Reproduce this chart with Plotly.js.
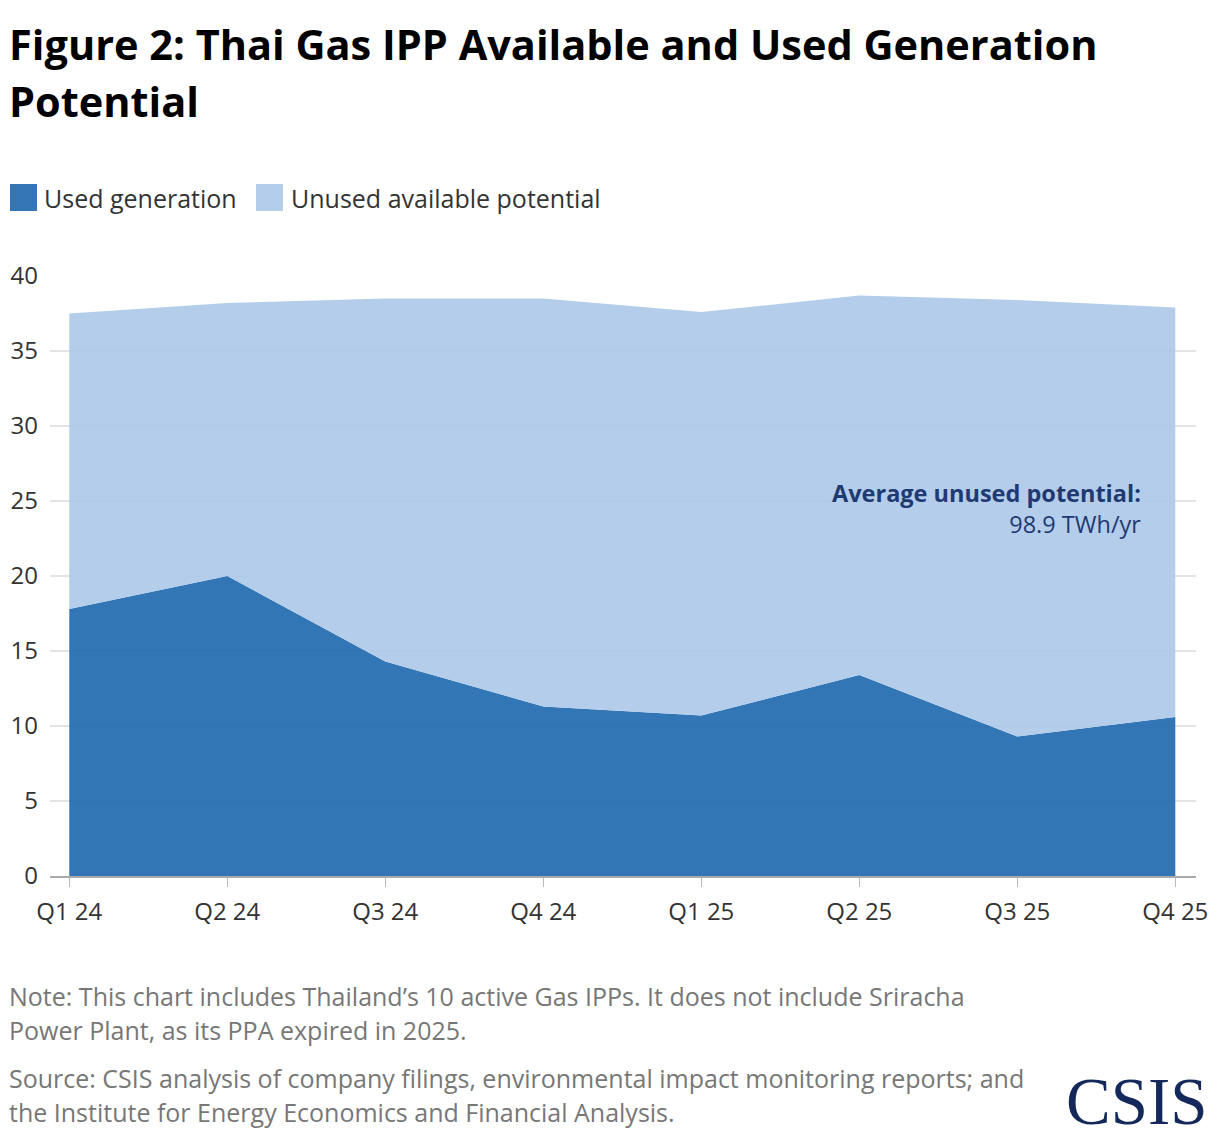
<!DOCTYPE html>
<html>
<head>
<meta charset="utf-8">
<script src="https://cdn.plot.ly/plotly-3.0.1.min.js"></script>
<style>
  html, body { margin: 0; padding: 0; background: #fff; }
  #chart { width: 1220px; height: 1138px; }
</style>
</head>
<body>
<div id="chart"></div>
<script>
// quarters and TWh values
const quarters = ["Q1 24", "Q2 24", "Q3 24", "Q4 24", "Q1 25", "Q2 25", "Q3 25", "Q4 25"];
const usedGeneration = [17.8, 20.0, 14.3, 11.3, 10.7, 13.4, 9.3, 10.6];
const unusedPotential = [19.7, 18.2, 24.2, 27.2, 26.9, 25.3, 29.1, 27.3];
const yTicks = [0, 5, 10, 15, 20, 25, 30, 35, 40];

const W = 1220, H = 1138;
const plotL = 50, plotR = 1196, plotT = 276, plotB = 876;
const px = x => (x - plotL) / (plotR - plotL);
const py = y => (plotB - y) / (plotB - plotT);

const font = "'Open Sans', 'Liberation Sans', sans-serif";
const darkBlue = "rgba(36, 108, 175, 0.93)";
const lightBlue = "rgba(172, 201, 232, 0.92)";

let usedTrace = {
    x: quarters,
    y: usedGeneration,
    name: "Used generation",
    type: "scatter",
    mode: "lines",
    stackgroup: "one",
    line: { width: 0 },
    fillcolor: darkBlue
};

let unusedTrace = {
    x: quarters,
    y: unusedPotential,
    name: "Unused available potential",
    type: "scatter",
    mode: "lines",
    stackgroup: "one",
    line: { width: 0 },
    fillcolor: lightBlue
};

let annotations = [
    {
        text: "<b>Figure 2: Thai Gas IPP Available and Used Generation</b>",
        x: px(8), y: py(44), xanchor: "left", yanchor: "middle",
        font: { family: font, size: 41.5, color: "#000" }
    },
    {
        text: "<b>Potential</b>",
        x: px(8), y: py(101), xanchor: "left", yanchor: "middle",
        font: { family: font, size: 41.5, color: "#000" }
    },
    {
        text: "Used generation",
        x: px(43), y: py(198), xanchor: "left", yanchor: "middle",
        font: { family: font, size: 25, color: "#333" }
    },
    {
        text: "Unused available potential",
        x: px(290), y: py(198), xanchor: "left", yanchor: "middle",
        font: { family: font, size: 25, color: "#333" }
    },
    {
        text: "<b>Average unused potential:</b><br>98.9 TWh/yr",
        x: px(1142), y: py(508), xanchor: "right", yanchor: "middle",
        font: { family: font, size: 23.5, color: "#1f3a73" }
    },
    {
        text: "Note: This chart includes Thailand\u2019s 10 active Gas IPPs. It does not include Sriracha",
        x: px(8), y: py(996), xanchor: "left", yanchor: "middle",
        font: { family: font, size: 25, color: "#777" }
    },
    {
        text: "Power Plant, as its PPA expired in 2025.",
        x: px(8), y: py(1030), xanchor: "left", yanchor: "middle",
        font: { family: font, size: 25, color: "#777" }
    },
    {
        text: "Source: CSIS analysis of company filings, environmental impact monitoring reports; and",
        x: px(8), y: py(1078), xanchor: "left", yanchor: "middle",
        font: { family: font, size: 25, color: "#777" }
    },
    {
        text: "the Institute for Energy Economics and Financial Analysis.",
        x: px(8), y: py(1112), xanchor: "left", yanchor: "middle",
        font: { family: font, size: 25, color: "#777" }
    },
    {
        text: "CSIS",
        x: px(1137), y: py(1101), xanchor: "center", yanchor: "middle",
        font: { family: "'Liberation Serif', 'DejaVu Serif', serif", size: 67, color: "#14285a" }
    }
].map(a => Object.assign({ xref: "paper", yref: "paper", showarrow: false, borderpad: 0, align: a.xanchor }, a));

// legend swatches drawn by hand to get the square keys
let shapes = [
    { x0: 10, x1: 37, fill: "#3375b5" },
    { x0: 256, x1: 283, fill: "#b3cdea" }
].map(s => ({
    type: "rect", xref: "paper", yref: "paper",
    x0: px(s.x0), x1: px(s.x1), y0: py(211), y1: py(184),
    fillcolor: s.fill, line: { width: 0 }
}));

let layout = {
    width: W,
    height: H,
    margin: { l: plotL, r: W - plotR, t: plotT, b: H - plotB, pad: 0 },
    paper_bgcolor: "#fff",
    plot_bgcolor: "#fff",
    showlegend: false,
    font: { family: font, color: "#333" },
    xaxis: {
        type: "category",
        range: [-0.122, 7.131],
        showgrid: false,
        showline: true,
        linecolor: "#aaa",
        linewidth: 1.5,
        ticks: "outside",
        ticklen: 9,
        tickwidth: 1,
        tickcolor: "#bbb",
        ticklabelstandoff: 5,
        tickfont: { family: font, size: 24, color: "#333" },
        fixedrange: true
    },
    yaxis: {
        range: [0, 40],
        tickvals: yTicks,
        ticktext: yTicks.map(String),
        showgrid: true,
        gridcolor: "#e4e4e4",
        gridwidth: 1.5,
        zeroline: false,
        showline: false,
        ticks: "",
        ticklabelstandoff: 11,
        tickfont: { family: font, size: 24, color: "#333" },
        fixedrange: true
    },
    annotations: annotations,
    shapes: shapes
};

Plotly.newPlot("chart", [usedTrace, unusedTrace], layout, { displayModeBar: false, staticPlot: true });
</script>
</body>
</html>
